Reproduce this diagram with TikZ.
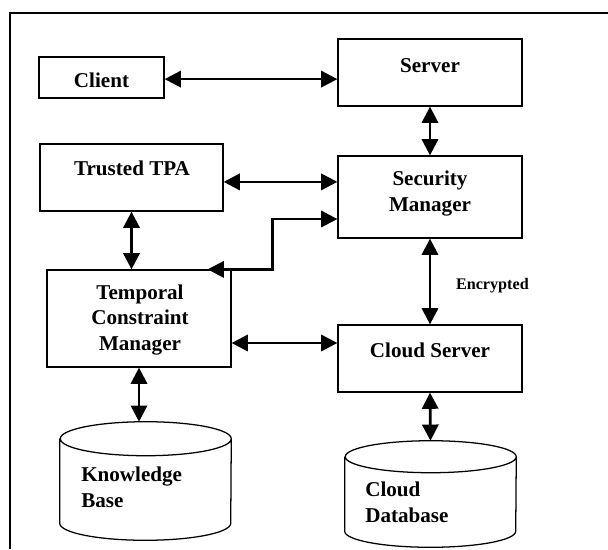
\documentclass[tikz,border=0pt]{standalone}
\usepackage{fontspec}
\setmainfont{Liberation Serif}
\usetikzlibrary{arrows.meta, positioning}

\begin{document}
\begin{tikzpicture}[
    block/.style={draw, line width=0.9pt, minimum width=4.6cm, minimum height=#1, inner sep=0pt},
    store/.style={minimum width=4.275cm, minimum height=#1, inner sep=0pt},
    txt/.style={font=\fontsize{15}{17.8}\selectfont\bfseries, align=center, anchor=base, inner sep=0pt},
    link/.style={{Triangle[length=11.5pt,width=11.5pt]}-{Triangle[length=11.5pt,width=11.5pt]}, line width=1.9pt},
    dbline/.style={line width=0.9pt}
]
    \useasboundingbox (0,0) rectangle (15.2,-13.725);

    % Frame
    \draw[line width=1pt] (0.25,-13.725) -- (0.25,-0.325) -- (15.2,-0.325);

    % Blocks
    \node[block=1.025cm, minimum width=3.125cm] (client) at (2.5375,-1.9375) {};
    \node[txt] (clienttxt) at (2.5375,-2.175) {Client};

    \node[block=1.675cm] (server) at (10.75,-1.8125) {};
    \node[txt] (servertxt) at (10.75,-1.8) {Server};

    \node[block=1.675cm, minimum width=4.575cm] (tpa) at (3.2875,-4.4375) {};
    \node[txt] (tpatxt) at (3.3,-4.375) {Trusted TPA};

    \node[block=2.05cm] (secmgr) at (10.75,-4.925) {};
    \node[txt] (secmgrtxt) at (10.75,-5.275) {Security\\Manager};

    \node[block=2.425cm] (tcm) at (3.475,-7.9625) {};
    \node[txt] (tcmtxt) at (3.5,-8.75) {Temporal\\Constraint\\Manager};

    \node[block=1.675cm] (cloudsrv) at (10.75,-8.9625) {};
    \node[txt] (cloudsrvtxt) at (10.75,-8.925) {Cloud Server};

    % Stores
    \node[store=2.95cm] (kb) at (3.6375,-12.025) {};
    \draw[dbline] ([yshift=-0.425cm]kb.north west) -- ([yshift=0.425cm]kb.south west)
        arc[start angle=180, end angle=360, x radius=2.1375cm, y radius=0.425cm]
        -- ([yshift=-0.425cm]kb.north east)
        arc[start angle=0, end angle=360, x radius=2.1375cm, y radius=0.425cm];
    \node[txt, align=left, anchor=base west] (kbtxt) at (2.025,-12.675) {Knowledge\\Base};

    \node[store=2.65cm] (cdb) at (10.7625,-12.35) {};
    \draw[dbline] ([yshift=-0.4cm]cdb.north west) -- ([yshift=0.4cm]cdb.south west)
        arc[start angle=180, end angle=360, x radius=2.1375cm, y radius=0.4cm]
        -- ([yshift=-0.4cm]cdb.north east)
        arc[start angle=0, end angle=360, x radius=2.1375cm, y radius=0.4cm];
    \node[txt, align=left, anchor=base west] (cdbtxt) at (9.125,-13.05) {Cloud\\Database};

    % Links
    \draw[link] ([yshift=-0.04cm]client.east) -- ([yshift=-0.04cm]client.east -| server.west);
    \draw[link] (server.south) -- (secmgr.north);
    \draw[link] ([yshift=-0.11cm]tpa.east) -- ([yshift=-0.11cm]tpa.east -| secmgr.west);
    \draw[link] (tpa.south) -- (tpa.south |- tcm.north);
    \draw[link] ([yshift=-0.55cm]secmgr.west) -| ([xshift=1.025cm]tcm.north east) -- ([xshift=-0.6cm]tcm.north east);
    \draw[link] (secmgr.south) -- (cloudsrv.north)
        node[pos=0.55, right=0.5cm, font=\fontsize{11.5}{13}\selectfont\bfseries] (enc) {Encrypted};
    \draw[link] ([yshift=-0.6125cm]tcm.east) -- ([yshift=-0.6125cm]tcm.east -| cloudsrv.west);
    \draw[link] (tcm.south) -- (tcm.south |- kb.north);
    \draw[link] (cloudsrv.south) -- (cdb.north);

\end{tikzpicture}
\end{document}
